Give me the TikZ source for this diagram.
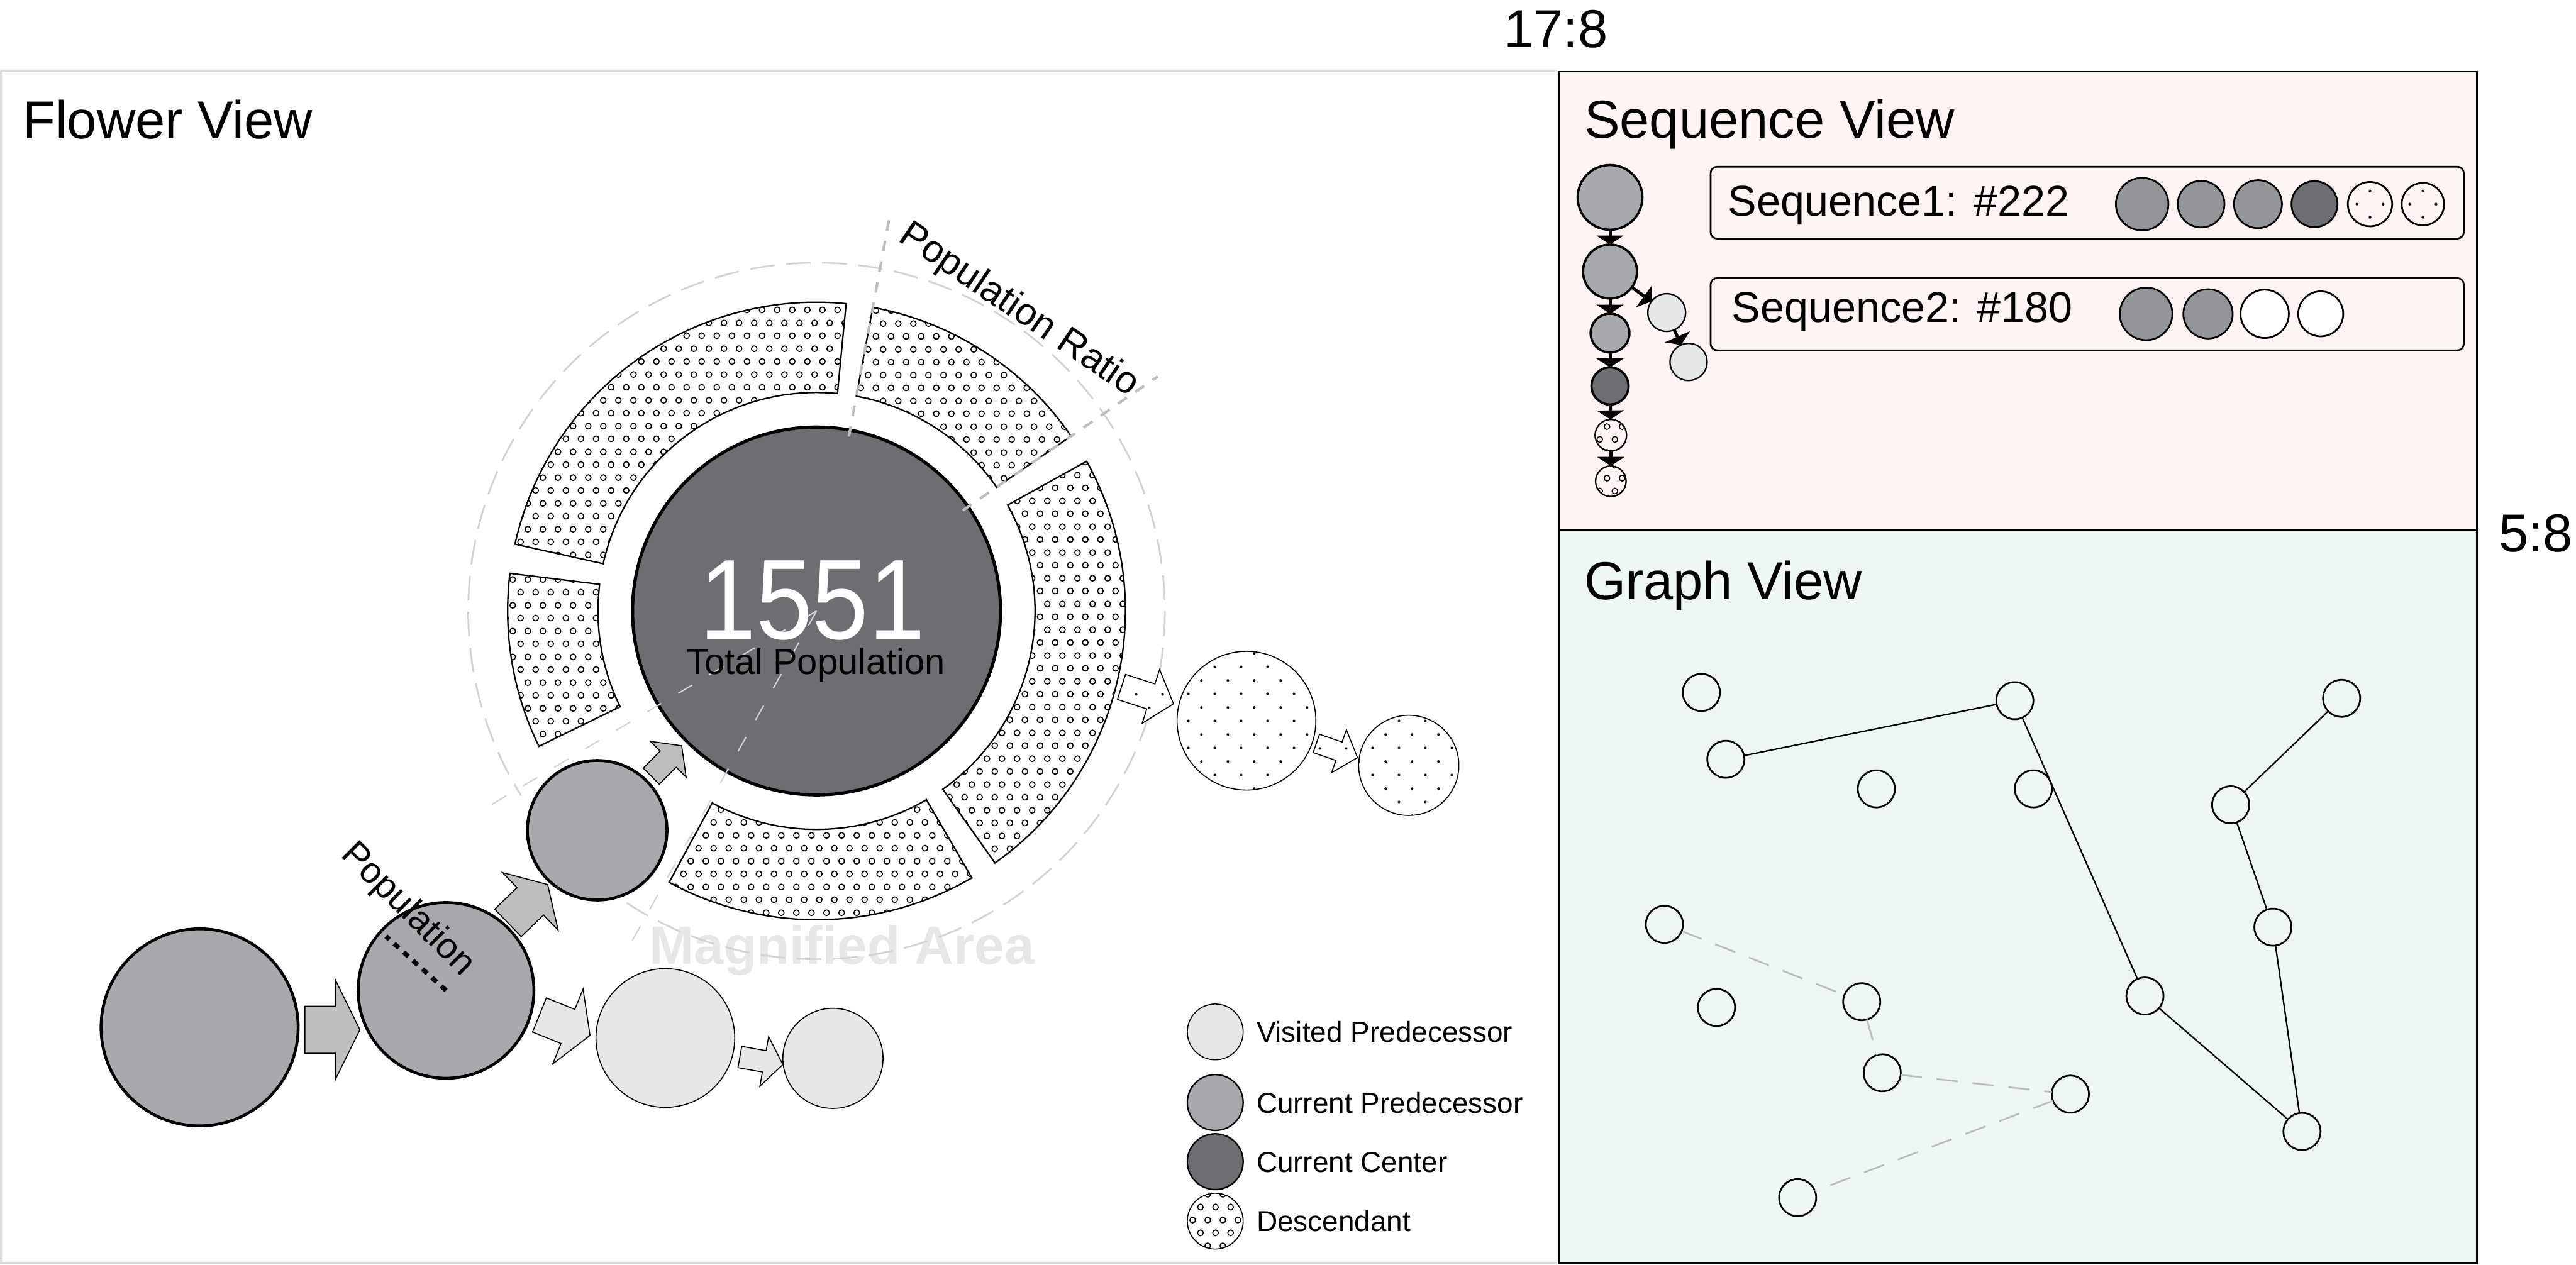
\documentclass[tikz,border=0pt]{standalone}
\usepackage{fontspec}
\setmainfont{Liberation Sans}
\usepackage{graphicx}
\usetikzlibrary{calc, arrows.meta, patterns.meta}

\definecolor{predgray}{HTML}{A7A9AC}
\definecolor{centergray}{HTML}{6D6E71}
\definecolor{visitgray}{HTML}{E6E7E8}
\definecolor{arrowgray}{HTML}{BCBEC0}
\definecolor{seqgray}{HTML}{939598}
\definecolor{guidegray}{HTML}{D1D3D4}
\definecolor{framegray}{HTML}{DADADA}
\definecolor{dashgray}{HTML}{BDBDBD}
\definecolor{seqbg}{HTML}{FDF4F4}
\definecolor{graphbg}{HTML}{EEF7F3}

\tikzdeclarepattern{
  name = smallrings,
  type = colored,
  bottom left = {(0pt,0pt)},
  top right = {(5.12pt,8.87pt)},
  tile size = {(5.12pt,8.87pt)},
  code = {
    \draw[black, line width = 0.35pt] (1.28pt,2.2pt) circle [radius = 1pt];
    \draw[black, line width = 0.35pt] (3.84pt,6.64pt) circle [radius = 1pt];
  }
}
\tikzdeclarepattern{
  name = smalldots,
  type = colored,
  bottom left = {(0pt,0pt)},
  top right = {(9.1pt,9.3pt)},
  tile size = {(9.1pt,9.3pt)},
  code = {
    \fill[black] (2.3pt,2.3pt) circle [radius = 0.45pt];
    \fill[black] (6.85pt,6.95pt) circle [radius = 0.45pt];
  }
}

\tikzset{
  flowerball/.style = {circle, inner sep = 0pt, outer sep = 0pt},
  predball/.style = {flowerball, fill = predgray, draw = black, line width = 1pt},
  centerball/.style = {flowerball, fill = centergray, draw = black, line width = 1.1pt},
  visitball/.style = {flowerball, fill = visitgray, draw = black, line width = 0.35pt},
  descball/.style = {flowerball, draw = black, line width = 0.35pt, preaction = {fill = white}, pattern = smalldots},
  ringpetal/.style = {draw = black, line width = 0.5pt, preaction = {fill = white}, pattern = smallrings},
  blockedge/.style = {draw = black, line width = 0.35pt, line join = miter},
  outerguide/.style = {draw = guidegray, line width = 0.6pt, dash pattern = on 0.3cm off 0.14cm},
  magguide/.style = {draw = guidegray, line width = 0.45pt, dash pattern = on 0.2cm off 0.24cm},
  ratioguide/.style = {draw = arrowgray, line width = 0.9pt, dash pattern = on 0.13cm off 0.125cm},
  popruler/.style = {draw = black, line width = 1.6pt, dash pattern = on 2.2pt off 2.2pt},
  viewtitle/.style = {inner sep = 0pt, anchor = base west, font = \fontsize{18.5}{22}\selectfont},
  ratiotext/.style = {inner sep = 0pt, font = \fontsize{13.2}{15}\selectfont},
  legendtext/.style = {inner sep = 0pt, anchor = base west, font = \fontsize{10}{12}\selectfont},
  seqbox/.style = {draw = black, line width = 0.6pt, fill = seqbg, rounded corners = 0.08cm},
  seqtext/.style = {inner sep = 0pt, anchor = base west, font = \fontsize{14.9}{17}\selectfont},
  seqball/.style = {flowerball, draw = black, line width = 0.6pt},
  chainball/.style = {flowerball, draw = black, line width = 0.8pt},
  chainarrow/.style = {draw = black, line width = 1.1pt, -{Triangle[width = 0.33cm, length = 0.11cm]}},
  gnode/.style = {flowerball, draw = black, line width = 0.6pt, minimum size = 0.452cm},
  gedge/.style = {draw = black, line width = 0.5pt},
  gdash/.style = {draw = dashgray, line width = 0.6pt, dash pattern = on 0.26cm off 0.18cm}
}

\newcommand{\blockarrow}[7][]{%
  \draw[blockedge, #1, shift = {(#2)}, rotate = #3]
    (-#4,-#5) -- ({#4-#7},-#5) -- ({#4-#7},-#6) -- (#4,0)
    -- ({#4-#7},#6) -- ({#4-#7},#5) -- (-#4,#5) -- cycle;}

\begin{document}
\begin{tikzpicture}[x = 0.02cm, y = 0.02cm]
  \useasboundingbox (0,0) rectangle (1568,-770);
  \fill[white] (0,0) rectangle (1568,-770);
  \draw[framegray, line width = 0.6pt] (948,-43) -- (0.6,-43) -- (0.6,-769) -- (948,-769);
  \draw[fill = seqbg, line width = 0.6pt] (948.8,-43.6) rectangle (1507.7,-322.7);
  \draw[fill = graphbg, line width = 0.6pt] (948.8,-322.7) rectangle (1507.7,-769.2);
  \node[inner sep = 0pt, anchor = base, font = \fontsize{18.5}{22}\selectfont] (ratiotop) at (947,-29) {17:8};
  \node[inner sep = 0pt, anchor = base, font = \fontsize{18.5}{22}\selectfont] (ratioside) at (1543.5,-336) {5:8};
  \node[viewtitle] (flowertitle) at (13.5,-84.5) {Flower View};
  \node[viewtitle] (seqtitle) at (964,-84) {Sequence View};
  \node[viewtitle] (graphtitle) at (964,-365) {Graph View};

  \node[inner sep = 0pt, anchor = base, text = visitgray, font = \fontsize{18.6}{22}\selectfont\bfseries] (magtext) at (512.5,-587) {Magnified Area};
  \node[centerball, minimum size = 4.48cm] (ctr) at (497,-372) {};
  \draw[outerguide] ($(ctr)+(237:212)$) arc[start angle = 237, end angle = 572, radius = 212];
  \foreach \a/\b in {84.5/167.5, 173/206, 241.5/300.2, -54.7/29, 34.5/79.5}{
    \draw[ringpetal] ($(ctr)+(\a:133)$) arc[start angle = \a, end angle = \b, radius = 133]
      -- ($(ctr)+(\b:188)$) arc[start angle = \b, end angle = \a, radius = 188] -- cycle;
  }
  \foreach \a in {210.8, 240.8}{
    \draw[magguide] (ctr.center) -- ($(ctr)+(\a:233)$);
  }
  \foreach \a/\r in {79.5/247, 34.5/252}{
    \draw[ratioguide] ($(ctr)+(\a:108)$) -- ($(ctr)+(\a:\r)$);
  }
  \node[inner sep = 0pt, anchor = base, text = white, font = \fontsize{39.5}{40}\selectfont] (total) at (494.5,-389) {\scalebox{0.89}[1]{1551}};
  \node[inner sep = 0pt, anchor = base, font = \fontsize{12.6}{14}\selectfont] (totallabel) at (496.5,-410.5) {Total Population};
  \node[ratiotext, rotate = -34] (ratiolabel) at (620,-189) {Population Ratio};

  \node[predball, minimum size = 2.4cm] (pred1) at (121.5,-625.5) {};
  \node[predball, minimum size = 2.14cm] (pred2) at (271.5,-603) {};
  \node[predball, minimum size = 1.7cm] (pred3) at (363.5,-505.5) {};
  \node[visitball, minimum size = 1.69cm] (visit1) at (405,-632) {};
  \node[visitball, minimum size = 1.22cm] (visit2) at (507,-644.4) {};
  \node[descball, minimum size = 1.69cm] (desc1) at (758.7,-438.8) {};
  \node[descball, minimum size = 1.22cm] (desc2) at (857.5,-466) {};
  \coordinate (ringout) at ($(ctr)+(-14.3:188)$);
  \path (pred1) -- coordinate[pos = 0.5] (a1) (pred2)
        (pred2) -- coordinate[pos = 0.5] (a2) (pred3)
        (pred3) -- coordinate[pos = 0.5] (a3) (ctr)
        (pred2) -- coordinate[pos = 0.5] (a4) (visit1)
        (visit1) -- coordinate[pos = 0.5] (a5) (visit2)
        (ringout) -- coordinate[pos = 0.5] (a6) (desc1)
        (desc1) -- coordinate[pos = 0.5] (a7) (desc2);
  \blockarrow[fill = arrowgray]{$(a1)+(2.6,-13.2)$}{0}{16.75}{14.3}{30.5}{15}
  \blockarrow[fill = arrowgray]{a2}{44}{16.8}{11.6}{24.4}{14.7}
  \blockarrow[fill = arrowgray]{a3}{45}{13.1}{6.9}{15.4}{11.6}
  \blockarrow[fill = visitgray]{$(a4)+(0,-5.5)$}{-22}{16.6}{11.2}{24.6}{14.5}
  \blockarrow[fill = visitgray]{$(a5)+(1.6,-7)$}{-10}{13.3}{6.6}{15.3}{11.5}
  \blockarrow[preaction = {fill = white}, pattern = smalldots]{a6}{-18}{16.65}{8}{17.2}{14.5}
  \blockarrow[preaction = {fill = white}, pattern = smalldots]{$(a7)+(0,-3)$}{-19}{13.25}{5.9}{13.8}{11.9}
  \draw[popruler] (pred2.center) -- ($(pred2.center)!0.92!(pred2.138)$);
  \node[ratiotext, rotate = -45, font = \fontsize{12.6}{14}\selectfont] (poplabel) at (248,-554) {Population};

  \node[visitball, minimum size = 0.68cm] (keyvisit) at (739.7,-628.3) {};
  \node[predball, line width = 0.5pt, minimum size = 0.68cm] (keypred) at (739.7,-671.3) {};
  \node[centerball, line width = 0.5pt, minimum size = 0.68cm] (keycenter) at (739.7,-707.3) {};
  \node[descball, pattern = smallrings, minimum size = 0.68cm] (keydesc) at (739.7,-743.5) {};
  \node[legendtext] at (764.5,-634.6) {Visited Predecessor};
  \node[legendtext] at (764.5,-677.6) {Current Predecessor};
  \node[legendtext] at (764.5,-713.6) {Current Center};
  \node[legendtext] at (764.5,-749.8) {Descendant};

  \draw[seqbox] (1041.2,-101.5) rectangle (1499.7,-145.3);
  \draw[seqbox] (1041.2,-169.3) rectangle (1499.7,-213.3);
  \node[seqtext] (seqone) at (1051.6,-131.4) {Sequence1: \#222};
  \node[seqtext] (seqtwo) at (1053.7,-196.2) {Sequence2: \#180};
  \foreach \x/\r/\c [count = \i] in {1303.9/16/seqgray, 1339.8/14.2/seqgray, 1374.4/14.6/seqgray, 1408.8/14/centergray, 1442.6/13.5/seqbg, 1474.8/12.9/seqbg}{
    \node[seqball, fill = \c, minimum size = {2*\r*0.02cm}] (first\i) at (\x,-124.3) {};
  }
  \foreach \n in {first5, first6}{
    \foreach \a in {0, 90, 180, 270}{
      \fill ($(\n)+(\a:8)$) circle [radius = 0.85];
    }
  }
  \foreach \x/\r/\c [count = \i] in {1306.3/16/seqgray, 1344/15/seqgray, 1378.5/14.7/white, 1412.6/13.7/white}{
    \node[seqball, fill = \c, minimum size = {2*\r*0.02cm}] (second\i) at (\x,-191.1) {};
  }

  \foreach \n/\y/\r/\c in {s1/120.2/19.7/predgray, s2/165.3/16.4/predgray, s3/202.8/11.8/predgray, s4/235/11.3/centergray}{
    \node[chainball, fill = \c, minimum size = {2*\r*0.02cm}] (\n) at (980,-\y) {};
  }
  \node[chainball, line width = 0.5pt, pattern = smallrings, minimum size = 0.384cm] (s5) at (980.5,-265) {};
  \node[chainball, line width = 0.5pt, pattern = smallrings, minimum size = 0.372cm] (s6) at (980.5,-293) {};
  \node[chainball, line width = 0.5pt, fill = visitgray, minimum size = 0.46cm] (sa) at (1014.5,-190.3) {};
  \node[chainball, line width = 0.5pt, fill = visitgray, minimum size = 0.452cm] (sb) at (1027.8,-220.4) {};
  \foreach \a/\b in {s1/s2, s2/s3, s3/s4, s4/s5, s5/s6, s2/sa, sa/sb}{
    \draw[chainarrow] (\a) -- (\b);
  }

  \foreach \n/\x/\y in {g1/1035.6/421.6, g2/1226.4/426.6, g3/1425.3/425.2, g4/1050.5/462.3, g5/1142.1/480.3, g6/1237.7/480.3, g7/1357.8/490, g8/1013.1/562.8, g9/1383.5/564.5, g10/1044.8/613.4, g11/1133.2/609.9, g12/1305.6/606.4, g13/1145.7/653.2, g14/1260.2/666.2, g15/1401.2/688.9, g16/1094.2/729.2}{
    \node[gnode] (\n) at (\x,-\y) {};
  }
  \foreach \a/\b in {g4/g2, g2/g12, g12/g15, g15/g9, g9/g7, g7/g3}{
    \draw[gedge] (\a) -- (\b);
  }
  \foreach \a/\b in {g8/g11, g11/g13, g13/g14, g14/g16}{
    \draw[gdash] (\a) -- (\b);
  }
\end{tikzpicture}
\end{document}
